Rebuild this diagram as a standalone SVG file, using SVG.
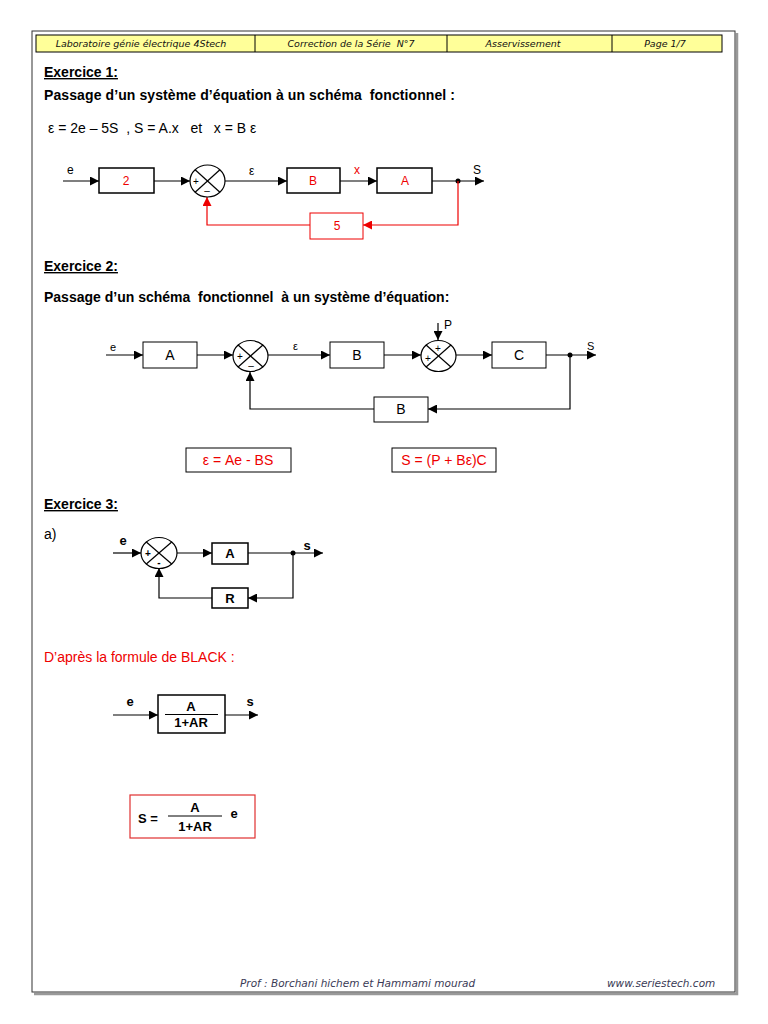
<svg xmlns="http://www.w3.org/2000/svg" width="768" height="1024" viewBox="0 0 768 1024">
<defs>
<marker id="ak" viewBox="0 0 10 10" refX="10" refY="5" markerWidth="9" markerHeight="9" markerUnits="userSpaceOnUse" orient="auto"><path d="M0,0 L10,5 L0,10 z" fill="#000"/></marker>
<marker id="ar" viewBox="0 0 10 10" refX="10" refY="5" markerWidth="9" markerHeight="9" markerUnits="userSpaceOnUse" orient="auto"><path d="M0,0 L10,5 L0,10 z" fill="#e00"/></marker>
</defs>
<style>
.hd{font-family:"DejaVu Sans",Verdana,sans-serif;font-style:italic;font-size:9.5px;fill:#111;text-anchor:middle}
.ft{font-family:"DejaVu Sans",Verdana,sans-serif;font-style:italic;font-size:10.5px;fill:#3a3a55}
.h{font-family:"Liberation Sans",Arial,sans-serif;font-weight:bold;font-size:14px;fill:#000}
.t{font-family:"Liberation Sans",Arial,sans-serif;font-size:14px;fill:#000}
.l{font-family:"Liberation Sans",Arial,sans-serif;font-size:12px;fill:#000}
.lr{font-family:"Liberation Sans",Arial,sans-serif;font-size:12px;fill:#e00;text-anchor:middle}
.b2{font-family:"Liberation Sans",Arial,sans-serif;font-size:14px;fill:#000;text-anchor:middle}
.b3{font-family:"Liberation Sans",Arial,sans-serif;font-size:13px;font-weight:bold;fill:#000;text-anchor:middle}
.s{font-family:"Liberation Sans",Arial,sans-serif;font-size:10px;fill:#000;text-anchor:middle}
.blk{fill:#fff;stroke:#000;stroke-width:1.5}
.blk1{fill:#fff;stroke:#000;stroke-width:1}
.red{fill:#fff;stroke:#e00;stroke-width:1}
.w{fill:none;stroke:#000;stroke-width:1.2}
.wr{fill:none;stroke:#e00;stroke-width:1.2}
</style>
<rect x="0" y="0" width="768" height="1024" fill="#fff"/>
<!-- page border -->
<polyline points="737,33 737,994 34,994" fill="none" stroke="#999" stroke-width="2.5"/>
<rect x="32" y="31" width="703" height="961" fill="none" stroke="#333" stroke-width="1"/>
<!-- header -->
<g id="header">
<rect x="36" y="35" width="686" height="17" fill="#ffff99" stroke="#000" stroke-width="1"/>
<line x1="255" y1="35" x2="255" y2="52" stroke="#000"/>
<line x1="447" y1="35" x2="447" y2="52" stroke="#000"/>
<line x1="612" y1="35" x2="612" y2="52" stroke="#000"/>
<text class="hd" x="141" y="47">Laboratoire génie électrique 4Stech</text>
<text class="hd" x="351" y="47" xml:space="preserve">Correction de la Série  N°7</text>
<text class="hd" x="523" y="47">Asservissement</text>
<text class="hd" x="665" y="47">Page 1/7</text>
</g>
<!-- Exercice 1 -->
<text class="h" x="44" y="77" text-decoration="underline">Exercice 1:</text>
<text class="h" x="44" y="100" xml:space="preserve" letter-spacing="0.1">Passage d’un système d’équation à un schéma  fonctionnel :</text>
<text class="t" x="48" y="133" xml:space="preserve">ε = 2e – 5S  , S = A.x   et   x = B ε</text>
<g id="ex1-connectors">
<line class="w" x1="63" y1="181" x2="99" y2="181" marker-end="url(#ak)"/>
<line class="w" x1="154" y1="181" x2="190" y2="181" marker-end="url(#ak)"/>
<line class="w" x1="225" y1="181" x2="287" y2="181" marker-end="url(#ak)"/>
<line class="w" x1="340" y1="181" x2="377" y2="181" marker-end="url(#ak)"/>
<line class="w" x1="432" y1="181" x2="484" y2="181" marker-end="url(#ak)"/>
<circle cx="458" cy="181" r="2.5" fill="#000"/>
<polyline class="wr" points="458,181 458,225 363,225" marker-end="url(#ar)"/>
<polyline class="wr" points="310,225 207,225 207,197" marker-end="url(#ar)"/>
<text class="l" x="67" y="174">e</text>
<text class="l" x="249" y="175">ε</text>
<text class="l" x="354" y="174" style="fill:#e00">x</text>
<text class="l" x="473" y="174">S</text>
</g>
<g id="ex1-b2"><rect class="blk" x="99" y="168" width="55" height="25"/><text class="lr" x="126" y="185">2</text></g>
<g id="ex1-sum">
<ellipse cx="207.5" cy="181" rx="17.5" ry="16" fill="#fff" stroke="#000" stroke-width="1.2"/>
<line x1="195.1" y1="169.7" x2="219.9" y2="192.3" stroke="#000" stroke-width="1.2"/>
<line x1="219.9" y1="169.7" x2="195.1" y2="192.3" stroke="#000" stroke-width="1.2"/>
<text class="s" x="196" y="185">+</text><text class="s" x="207" y="194">–</text>
</g>
<g id="ex1-bB"><rect class="blk" x="287" y="168" width="53" height="25"/><text class="lr" x="313" y="185">B</text></g>
<g id="ex1-bA"><rect class="blk" x="377" y="168" width="55" height="25"/><text class="lr" x="405" y="185">A</text></g>
<g id="ex1-b5"><rect class="red" x="310" y="213" width="53" height="26"/><text class="lr" x="337" y="230">5</text></g>
<!-- Exercice 2 -->
<text class="h" x="44" y="271" text-decoration="underline">Exercice 2:</text>
<text class="h" x="44" y="302" xml:space="preserve">Passage d’un schéma  fonctionnel  à un système d’équation:</text>
<g id="ex2-connectors">
<line class="w" x1="106" y1="355" x2="143" y2="355" marker-end="url(#ak)"/>
<line class="w" x1="197" y1="355" x2="233" y2="355" marker-end="url(#ak)"/>
<line class="w" x1="268" y1="355" x2="330" y2="355" marker-end="url(#ak)"/>
<line class="w" x1="384" y1="355" x2="421" y2="355" marker-end="url(#ak)"/>
<line class="w" x1="456" y1="355" x2="492" y2="355" marker-end="url(#ak)"/>
<line class="w" x1="546" y1="355" x2="596" y2="355" marker-end="url(#ak)"/>
<line class="w" x1="438" y1="323" x2="438" y2="340" marker-end="url(#ak)"/>
<circle cx="570" cy="355" r="2.5" fill="#000"/>
<polyline class="w" points="570,355 570,409 428,409" marker-end="url(#ak)"/>
<polyline class="w" points="374,409 250,409 250,372" marker-end="url(#ak)"/>
<text class="l" x="110" y="351" style="font-size:11px">e</text>
<text class="l" x="293" y="350" style="font-size:11px">ε</text>
<text class="l" x="444" y="329">P</text>
<text class="l" x="587" y="350" style="font-size:11px">S</text>
</g>
<g id="ex2-bA"><rect class="blk1" x="143" y="342" width="54" height="26"/><text class="b2" x="170" y="360">A</text></g>
<g id="ex2-sum1">
<ellipse cx="250.5" cy="356" rx="17.5" ry="15.5" fill="#fff" stroke="#000" stroke-width="1.2"/>
<line x1="238.1" y1="345" x2="262.9" y2="367" stroke="#000" stroke-width="1.2"/>
<line x1="262.9" y1="345" x2="238.1" y2="367" stroke="#000" stroke-width="1.2"/>
<text class="s" x="240" y="360">+</text><text class="s" x="251" y="369">–</text>
</g>
<g id="ex2-bB"><rect class="blk1" x="330" y="342" width="54" height="26"/><text class="b2" x="357" y="360">B</text></g>
<g id="ex2-sum2">
<ellipse cx="438.5" cy="356" rx="17.5" ry="15.5" fill="#fff" stroke="#000" stroke-width="1.2"/>
<line x1="426.1" y1="345" x2="450.9" y2="367" stroke="#000" stroke-width="1.2"/>
<line x1="450.9" y1="345" x2="426.1" y2="367" stroke="#000" stroke-width="1.2"/>
<text class="s" x="438" y="352">+</text><text class="s" x="428" y="362">+</text>
</g>
<g id="ex2-bC"><rect class="blk1" x="492" y="342" width="54" height="26"/><text class="b2" x="519" y="360">C</text></g>
<g id="ex2-bB2"><rect class="blk1" x="374" y="397" width="54" height="25"/><text class="b2" x="401" y="414">B</text></g>
<g id="ex2-eq1"><rect class="blk1" x="186" y="448" width="105" height="24"/><text class="b2" x="238" y="465" style="fill:#e00">ε = Ae - BS</text></g>
<g id="ex2-eq2"><rect class="blk1" x="392" y="448" width="104" height="24"/><text class="b2" x="444" y="465" style="fill:#e00">S = (P + Bε)C</text></g>
<!-- Exercice 3 -->
<text class="h" x="44" y="509" text-decoration="underline">Exercice 3:</text>
<text class="t" x="44" y="539">a)</text>
<g id="ex3-connectors">
<line class="w" x1="113" y1="553" x2="141" y2="553" marker-end="url(#ak)"/>
<line class="w" x1="177" y1="553" x2="212" y2="553" marker-end="url(#ak)"/>
<line class="w" x1="248" y1="553" x2="323" y2="553" marker-end="url(#ak)"/>
<circle cx="293" cy="553" r="2.5" fill="#000"/>
<polyline class="w" points="293,553 293,598 248,598" marker-end="url(#ak)"/>
<polyline class="w" points="212,598 159,598 159,568" marker-end="url(#ak)"/>
<text class="b3" x="123" y="545">e</text>
<text class="b3" x="307" y="550">s</text>
</g>
<g id="ex3-sum">
<ellipse cx="159" cy="553" rx="18" ry="15.5" fill="#fff" stroke="#000" stroke-width="1.2"/>
<line x1="146.3" y1="542" x2="171.7" y2="564" stroke="#000" stroke-width="1.2"/>
<line x1="171.7" y1="542" x2="146.3" y2="564" stroke="#000" stroke-width="1.2"/>
<text class="s" x="148" y="557" style="font-weight:bold">+</text><text class="s" x="159" y="566" style="font-weight:bold">-</text>
</g>
<g id="ex3-bA"><rect class="blk" x="212" y="543" width="36" height="21"/><text class="b3" x="230" y="558">A</text></g>
<g id="ex3-bR"><rect class="blk" x="212" y="588" width="36" height="20"/><text class="b3" x="230" y="603">R</text></g>
<text class="t" x="44" y="662" style="fill:#e00">D’après la formule de BLACK :</text>
<g id="ex3-black-connectors">
<line class="w" x1="113" y1="715" x2="158" y2="715" marker-end="url(#ak)"/>
<line class="w" x1="225" y1="715" x2="258" y2="715" marker-end="url(#ak)"/>
<text class="b3" x="130" y="706">e</text>
<text class="b3" x="250" y="706">s</text>
</g>
<g id="ex3-black">
<rect class="blk" x="158" y="695" width="67" height="38"/>
<text class="b3" x="191" y="711">A</text>
<line x1="165" y1="714.5" x2="218" y2="714.5" stroke="#000" stroke-width="1"/>
<text class="b3" x="191" y="727">1+AR</text>
</g>
<g id="ex3-result">
<rect x="130" y="795" width="125" height="43" fill="#fff" stroke="#e03030" stroke-width="1.2"/>
<text class="b3" x="148" y="823">S =</text>
<text class="b3" x="195" y="812">A</text>
<line x1="168" y1="816" x2="222" y2="816" stroke="#000" stroke-width="1"/>
<text class="b3" x="195" y="831">1+AR</text>
<text class="b3" x="234" y="818">e</text>
</g>
<!-- footer -->
<g id="footer">
<text class="ft" x="240" y="987">Prof : Borchani hichem et Hammami mourad</text>
<text class="ft" x="607" y="987">www.seriestech.com</text>
</g>
</svg>
